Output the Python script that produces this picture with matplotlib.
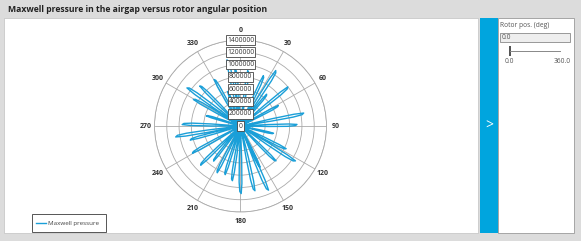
import numpy as np
import matplotlib
matplotlib.use("Agg")
import matplotlib.pyplot as plt
from matplotlib.patches import Rectangle
from matplotlib.lines import Line2D

plt.rcParams['font.family'] = ['Open Sans', 'DejaVu Sans']

title = "Maxwell pressure in the airgap versus rotor angular position"
series_name = "Maxwell pressure"
# lobe peak angles (deg, clockwise from north) and peak pressures (Pa)
lobe_angle = [331, 340, 349, 355, 8, 25, 33, 40, 51, 62, 79, 89, 103, 117, 123, 135,
              155, 157, 168, 180, 189, 198, 207, 218, 226, 241, 255, 261, 272, 287,
              300, 306, 315]
lobe_peak = [870000, 600000, 1100000, 930000, 910000, 900000, 1070000, 670000, 1000000,
             700000, 1050000, 920000, 550000, 830000, 1060000, 810000, 740000, 1140000,
             1080000, 1100000, 900000, 830000, 850000, 720000, 910000, 900000, 850000,
             1070000, 950000, 580000, 880000, 1070000, 930000]
r_ticks = [0, 200000, 400000, 600000, 800000, 1000000, 1200000, 1400000]
theta_ticks = list(range(0, 360, 30))
slider_label = "Rotor pos. (deg)"
slider_value = "0.0"
slider_min, slider_max = "0.0", "360.0"

W, H = 581, 241
fig = plt.figure(figsize=(W / 100, H / 100), dpi=100)
fig.patch.set_facecolor('#dcdcdc')

bg = fig.add_axes([0, 0, 1, 1])
bg.set_xlim(0, W)
bg.set_ylim(H, 0)
bg.axis('off')
bg.add_patch(Rectangle((4, 17.5), 474, 215.5, facecolor='white', edgecolor='#c8c8c8', lw=0.6))
bg.add_patch(Rectangle((480, 18), 17.5, 215, facecolor='#00a5de', edgecolor='none'))
bg.add_patch(Rectangle((497.5, 18), 76.5, 215, facecolor='white', edgecolor='#9a9a9a', lw=0.6))
bg.text(489, 126, ">", color='white', fontsize=10, ha='center', va='center')
bg.text(8, 9, title, fontsize=6.2, fontweight='bold', color='#222222', ha='left', va='center')
bg.text(500.5, 25.5, slider_label, fontsize=4.8, color='#555555', ha='left', va='center')
bg.add_patch(Rectangle((500, 32.5), 70, 9.5, facecolor='#eeeeee', edgecolor='#8a8a8a', lw=0.6))
bg.text(502, 37.3, slider_value, fontsize=4.8, color='#555555', ha='left', va='center')
bg.add_line(Line2D([510, 560], [50.5, 50.5], color='#888888', lw=0.7))
bg.add_patch(Rectangle((509, 46), 2, 9.5, facecolor='#555555', edgecolor='none'))
bg.text(505, 61.5, slider_min, fontsize=4.8, color='#555555', ha='left', va='center')
bg.text(570.5, 61.5, slider_max, fontsize=4.8, color='#555555', ha='right', va='center')
bg.add_patch(Rectangle((31.5, 213.5), 74.5, 18.5, facecolor='white', edgecolor='#555555', lw=0.7))
bg.add_line(Line2D([36, 46], [223, 223], color='#1a9fd8', lw=1.0))
bg.text(48.5, 223, series_name, fontsize=4.5, color='#444444', ha='left', va='center')

theta, r = [], []
for a, p in zip(lobe_angle, lobe_peak):
    theta += [a - 2.2, a - 2.0, a - 1.4, a - 0.6, a + 0.6, a + 1.4, a + 2.0, a + 2.2]
    r += [0, 0.5 * p, 0.85 * p, p, 0.97 * p, 0.83 * p, 0.5 * p, 0]
theta.append(theta[0])
r.append(r[0])
theta = np.deg2rad(theta)

cx, cy, rad = 240.5, 126, 86
ax = fig.add_axes([(cx - rad) / W, (H - cy - rad) / H, 2 * rad / W, 2 * rad / H],
                  projection='polar')
ax.set_facecolor('none')
ax.set_theta_zero_location('N')
ax.set_theta_direction(-1)
ax.plot(theta, r, color='#1a9fd8', lw=1.0, zorder=3)
ax.set_ylim(0, r_ticks[-1])
ax.set_rgrids(r_ticks[1:], labels=[''] * (len(r_ticks) - 1))
ax.set_thetagrids(theta_ticks, labels=[str(t) for t in theta_ticks],
                  fontsize=5.0, color='#333333', fontweight='bold')
ax.tick_params(axis='x', pad=-4)
ax.grid(color='#aaaaaa', lw=0.6)
ax.spines['polar'].set_color('#aaaaaa')
ax.spines['polar'].set_linewidth(0.6)
for rv in r_ticks:
    ax.text(0, rv, str(rv), fontsize=4.9, ha='center', va='center', color='#333333', zorder=5,
            bbox=dict(boxstyle='square,pad=0.2', facecolor='white', edgecolor='#444444', lw=0.6))

fig.savefig('out.png', dpi=100, facecolor=fig.get_facecolor())
